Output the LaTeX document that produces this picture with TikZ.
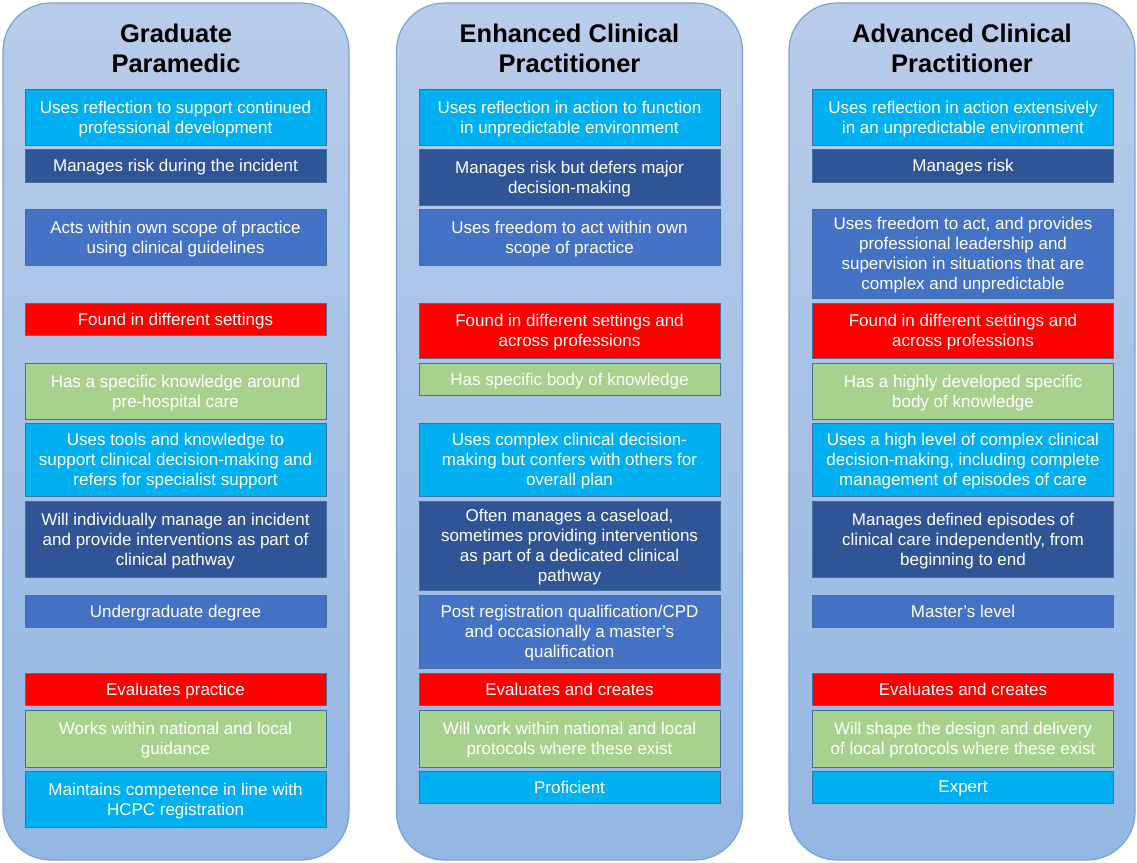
\documentclass[tikz,border=0pt]{standalone}
\usepackage{fontspec}
\setmainfont{Liberation Sans}
\usetikzlibrary{positioning}

\definecolor{colTop}{RGB}{184,204,234}
\definecolor{colBot}{RGB}{147,183,227}
\definecolor{colEdge}{RGB}{122,162,216}
\definecolor{cardEdge}{RGB}{65,113,156}
\definecolor{skyblue}{RGB}{0,176,240}
\definecolor{navy}{RGB}{47,85,151}
\definecolor{midblue}{RGB}{68,114,196}
\definecolor{brightred}{RGB}{255,0,0}
\definecolor{leaf}{RGB}{169,209,142}

\tikzstyle{column} = [rectangle, rounded corners=48, minimum width=346, minimum height=857, top color=colTop, bottom color=colBot, draw=colEdge, line width=1.2pt, inner sep=0]
\tikzstyle{title} = [align=center, font=\fontsize{25.5}{30}\selectfont\bfseries, text=black]
\tikzstyle{card} = [rectangle, minimum width=301, inner sep=0, text depth=-1pt, draw=cardEdge, line width=0.8pt, align=center, text=white, font=\fontsize{17}{20}\selectfont]
\tikzstyle{reflect} = [card, fill=skyblue]
\tikzstyle{risk} = [card, fill=navy]
\tikzstyle{scope} = [card, fill=midblue]
\tikzstyle{setting} = [card, fill=brightred]
\tikzstyle{knowl} = [card, fill=leaf]

\begin{document}
\begin{tikzpicture}[x=1pt, y=-1pt]
\useasboundingbox (0,0) rectangle (1137,862);

% columns
\node (col1) [column] at (176,431.5) {};
\node (col2) [column] at (569.5,431.5) {};
\node (col3) [column] at (962,431.5) {};

\node (t1) [title] at (176,48) {Graduate\\Paramedic};
\node (t2) [title] at (569.5,48) {Enhanced Clinical\\Practitioner};
\node (t3) [title] at (962,48) {Advanced Clinical\\Practitioner};

% Graduate Paramedic
\node (g1) [reflect, minimum height=56] at (175.5,117) {Uses reflection to support continued\\professional development};
\node (g2) [risk, minimum height=33] at (175.5,165.5) {Manages risk during the incident};
\node (g3) [scope, minimum height=56] at (175.5,237) {Acts within own scope of practice\\using clinical guidelines};
\node (g4) [setting, minimum height=32] at (175.5,319) {Found in different settings};
\node (g5) [knowl, minimum height=56] at (175.5,391) {Has a specific knowledge around\\pre-hospital care};
\node (g6) [reflect, minimum height=73] at (175.5,459.5) {Uses tools and knowledge to\\support clinical decision-making and\\refers for specialist support};
\node (g7) [risk, minimum height=76] at (175.5,539) {Will individually manage an incident\\and provide interventions as part of\\clinical pathway};
\node (g8) [scope, minimum height=32] at (175.5,611) {Undergraduate degree};
\node (g9) [setting, minimum height=32] at (175.5,689) {Evaluates practice};
\node (g10) [knowl, minimum height=57] at (175.5,738.5) {Works within national and local\\guidance};
\node (g11) [reflect, minimum height=56] at (175.5,799) {Maintains competence in line with\\HCPC registration};

% Enhanced Clinical Practitioner
\node (e1) [reflect, minimum height=56] at (569.5,117) {Uses reflection in action to function\\in unpredictable environment};
\node (e2) [risk, minimum height=56] at (569.5,177) {Manages risk but defers major\\decision-making};
\node (e3) [scope, minimum height=56] at (569.5,237) {Uses freedom to act within own\\scope of practice};
\node (e4) [setting, minimum height=55] at (569.5,330.5) {Found in different settings and\\across professions};
\node (e5) [knowl, minimum height=32] at (569.5,379) {Has specific body of knowledge};
\node (e6) [reflect, minimum height=73] at (569.5,459.5) {Uses complex clinical decision-\\making but confers with others for\\overall plan};
\node (e7) [risk, minimum height=89] at (569.5,545.5) {Often manages a caseload,\\sometimes providing interventions\\as part of a dedicated clinical\\pathway};
\node (e8) [scope, minimum height=73] at (569.5,631.5) {Post registration qualification/CPD\\and occasionally a master's\\qualification};
\node (e9) [setting, minimum height=32] at (569.5,689) {Evaluates and creates};
\node (e10) [knowl, minimum height=57] at (569.5,738.5) {Will work within national and local\\protocols where these exist};
\node (e11) [reflect, minimum height=32] at (569.5,787) {Proficient};

% Advanced Clinical Practitioner
\node (a1) [reflect, minimum height=56] at (963,117) {Uses reflection in action extensively\\in an unpredictable environment};
\node (a2) [risk, minimum height=33] at (963,165.5) {Manages risk};
\node (a3) [scope, minimum height=89] at (963,253.5) {Uses freedom to act, and provides\\professional leadership and\\supervision in situations that are\\complex and unpredictable};
\node (a4) [setting, minimum height=55] at (963,330.5) {Found in different settings and\\across professions};
\node (a5) [knowl, minimum height=56] at (963,391) {Has a highly developed specific\\body of knowledge};
\node (a6) [reflect, minimum height=73] at (963,459.5) {Uses a high level of complex clinical\\decision-making, including complete\\management of episodes of care};
\node (a7) [risk, minimum height=76] at (963,539) {Manages defined episodes of\\clinical care independently, from\\beginning to end};
\node (a8) [scope, minimum height=32] at (963,611) {Master's level};
\node (a9) [setting, minimum height=32] at (963,689) {Evaluates and creates};
\node (a10) [knowl, minimum height=57] at (963,738.5) {Will shape the design and delivery\\of local protocols where these exist};
\node (a11) [reflect, minimum height=32] at (963,787) {Expert};
\end{tikzpicture}
\end{document}
